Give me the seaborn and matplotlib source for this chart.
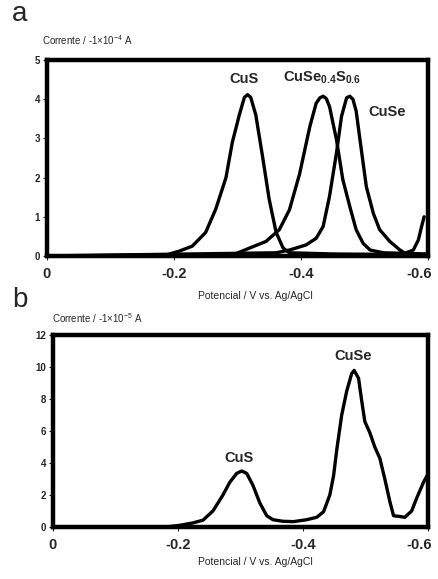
import numpy as np
import pandas as pd
import matplotlib
matplotlib.use("Agg")
import matplotlib.pyplot as plt
import matplotlib.transforms as mtransforms
import seaborn as sns

# Panel a: current (x1e-4 A) vs potential (V)
cus_v = [0.0, -0.187, -0.208, -0.229, -0.250, -0.266, -0.282, -0.292, -0.303, -0.311,
         -0.316, -0.321, -0.329, -0.340, -0.350, -0.361, -0.372, -0.382, -0.45, -0.6]
cus_i = [0.0, 0.02, 0.12, 0.25, 0.6, 1.2, 2.0, 2.9, 3.6, 4.05,
         4.12, 4.05, 3.6, 2.5, 1.45, 0.6, 0.2, 0.08, 0.05, 0.03]

mix_v = [0.0, -0.292, -0.319, -0.345, -0.366, -0.382, -0.398, -0.414, -0.424, -0.430,
         -0.435, -0.440, -0.445, -0.456, -0.466, -0.477, -0.487, -0.498, -0.509, -0.530, -0.6]
mix_i = [0.0, 0.02, 0.2, 0.37, 0.67, 1.18, 2.1, 3.3, 3.9, 4.04,
         4.08, 4.02, 3.82, 2.97, 1.95, 1.26, 0.67, 0.32, 0.15, 0.08, 0.05]

cuse_v = [0.0, -0.361, -0.382, -0.408, -0.424, -0.435, -0.445, -0.456, -0.464, -0.472,
          -0.477, -0.482, -0.487, -0.493, -0.503, -0.514, -0.524, -0.540, -0.556, -0.564,
          -0.577, -0.585, -0.590, -0.594]
cuse_i = [0.0, 0.08, 0.15, 0.28, 0.45, 0.75, 1.52, 2.63, 3.57, 4.04,
          4.08, 4.0, 3.7, 2.97, 1.77, 1.09, 0.67, 0.37, 0.15, 0.07,
          0.15, 0.41, 0.75, 1.0]

# Panel b: current (x1e-5 A) vs potential (V)
b_v = [0.0, -0.182, -0.203, -0.224, -0.240, -0.256, -0.272, -0.283, -0.294, -0.302,
       -0.310, -0.320, -0.331, -0.342, -0.352, -0.368, -0.385, -0.406, -0.422, -0.433,
       -0.443, -0.449, -0.454, -0.462, -0.470, -0.478, -0.482, -0.489, -0.494, -0.499,
       -0.507, -0.515, -0.523, -0.531, -0.539, -0.545, -0.555, -0.563, -0.574, -0.582,
       -0.593, -0.600]
b_i = [0.0, 0.0, 0.1, 0.25, 0.42, 1.0, 2.0, 2.8, 3.35, 3.5,
       3.35, 2.6, 1.5, 0.7, 0.45, 0.35, 0.33, 0.45, 0.6, 0.95,
       2.0, 3.2, 4.8, 7.0, 8.5, 9.6, 9.8, 9.3, 7.9, 6.6,
       5.9, 5.0, 4.3, 3.0, 1.6, 0.7, 0.65, 0.6, 1.0, 1.8,
       2.8, 3.3]

x_ticks = [0, -0.2, -0.4, -0.6]
x_ticklabels = ["0", "-0.2", "-0.4", "-0.6"]

sns.set_style("white")
plt.rcParams["font.family"] = ["Liberation Sans", "DejaVu Sans"]
plt.rcParams["mathtext.fontset"] = "custom"
plt.rcParams["mathtext.rm"] = "Liberation Sans"
plt.rcParams["mathtext.bf"] = "Liberation Sans:bold"

fig = plt.figure(figsize=(4.38, 5.79), dpi=100)
ax_a = fig.add_axes([0.107, 0.558, 0.870, 0.338])
ax_b = fig.add_axes([0.121, 0.090, 0.856, 0.331])

lw = 2.4
sns.lineplot(x=cus_v, y=cus_i, ax=ax_a, color="black", lw=lw, sort=False)
sns.lineplot(x=mix_v, y=mix_i, ax=ax_a, color="black", lw=lw, sort=False)
sns.lineplot(x=cuse_v, y=cuse_i, ax=ax_a, color="black", lw=lw, sort=False)
sns.lineplot(x=b_v, y=b_i, ax=ax_b, color="black", lw=lw, sort=False)

ax_a.set_ylim(0, 5)
ax_a.set_yticks([0, 1, 2, 3, 4, 5])
ax_b.set_ylim(0, 12)
ax_b.set_yticks([0, 2, 4, 6, 8, 10, 12])

shift_left = mtransforms.ScaledTranslation(-6 / 72, 0, fig.dpi_scale_trans)
for ax in (ax_a, ax_b):
    ax.set_xlim(0, -0.6)
    ax.set_xticks(x_ticks)
    ax.set_xticklabels(x_ticklabels)
    for s in ax.spines.values():
        s.set_linewidth(3.2)
        s.set_color("black")
    ax.tick_params(axis="y", which="both", left=True, length=3, width=0.8,
                   labelsize=7, pad=2)
    ax.tick_params(axis="x", which="both", bottom=True, length=3, width=0.8,
                   labelsize=10.5, pad=5)
    for t in ax.get_yticklabels() + ax.get_xticklabels():
        t.set_fontweight("bold")
    last = ax.get_xticklabels()[-1]
    last.set_transform(last.get_transform() + shift_left)
    ax.set_xlabel("")
    ax.set_ylabel("")

# Peak labels
ax_a.text(-0.311, 4.35, "CuS", ha="center", va="bottom", fontsize=10.5, fontweight="bold")
ax_a.text(-0.434, 4.35, r"CuSe$_{\mathbf{0.4}}$S$_{\mathbf{0.6}}$", ha="center", va="bottom",
          fontsize=10.5, fontweight="bold")
ax_a.text(-0.535, 3.67, "CuSe", ha="center", va="center", fontsize=10.5, fontweight="bold")
ax_b.text(-0.298, 4.3, "CuS", ha="center", va="center", fontsize=10.5, fontweight="bold")
ax_b.text(-0.481, 10.7, "CuSe", ha="center", va="center", fontsize=10.5, fontweight="bold")

# Panel letters and axis captions
fig.text(0.027, 0.975, "a", fontsize=20, ha="left", va="center")
fig.text(0.027, 0.482, "b", fontsize=20, ha="left", va="center")
fig.text(0.096, 0.930, r"Corrente / -1×10$^{-4}$ A", fontsize=7, ha="left", va="center")
fig.text(0.119, 0.451, r"Corrente / -1×10$^{-5}$ A", fontsize=7, ha="left", va="center")
fig.text(0.582, 0.489, "Potencial / V vs. Ag/AgCl", fontsize=7.5, ha="center", va="center")
fig.text(0.582, 0.029, "Potencial / V vs. Ag/AgCl", fontsize=7.5, ha="center", va="center")

fig.savefig("out.png", dpi=100)
